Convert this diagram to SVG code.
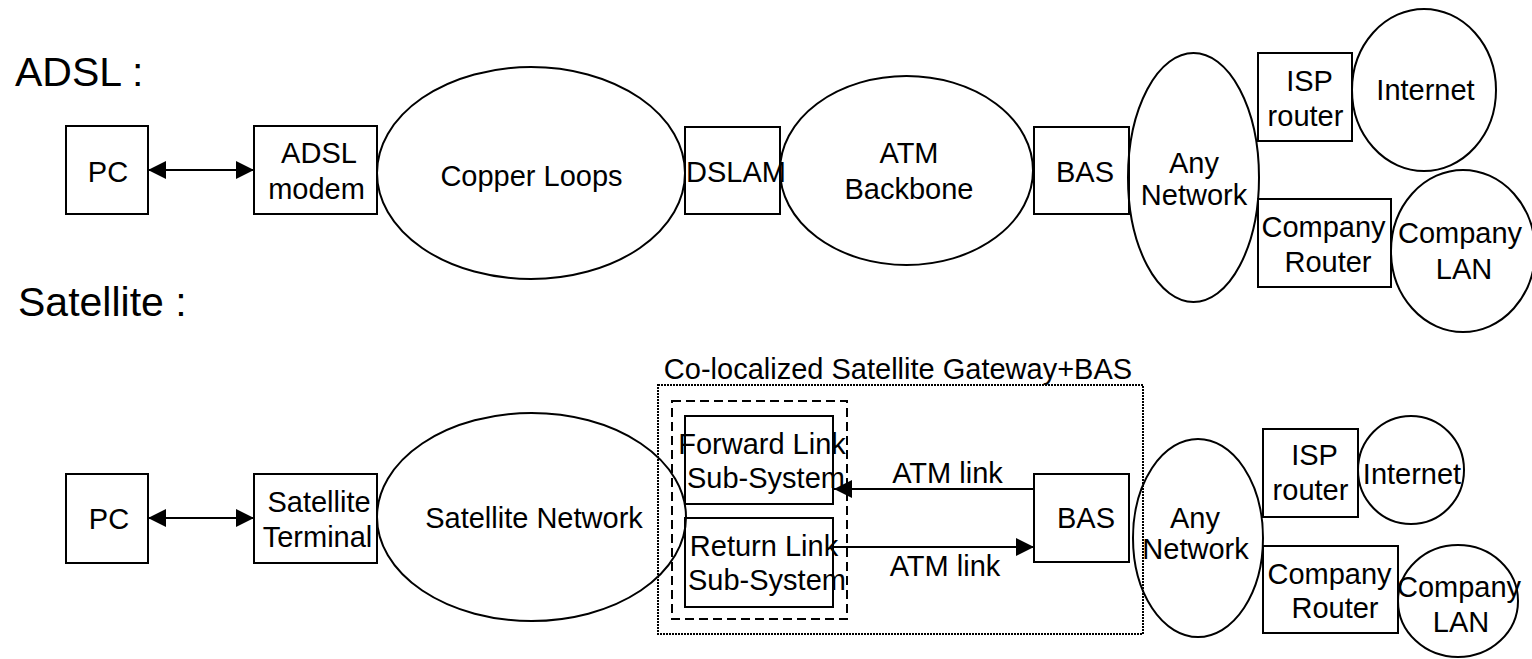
<svg xmlns="http://www.w3.org/2000/svg" width="1532" height="659" viewBox="0 0 1532 659">
<style>
text{font-family:"Liberation Sans",Arial,sans-serif;font-size:29px;fill:#000;text-anchor:middle}
.title{font-size:41px;text-anchor:start}
.box{fill:none;stroke:#000;stroke-width:2}
.ell{fill:none;stroke:#000;stroke-width:2}
.conn{stroke:#000;stroke-width:2;fill:none}
.dot{fill:none;stroke:#000;stroke-width:2;stroke-dasharray:2 1}
.dash{fill:none;stroke:#000;stroke-width:2;stroke-dasharray:9 5}
</style>
<defs>
<marker id="ah" viewBox="0 0 18 18" refX="18" refY="9" markerWidth="18" markerHeight="18" orient="auto-start-reverse" markerUnits="userSpaceOnUse">
<path d="M0,0 L18,9 L0,18 z" fill="#000"/>
</marker>
</defs>
<rect width="1532" height="659" fill="#fff"/>
<text class="title" x="15" y="86">ADSL :</text>
<text class="title" x="18" y="316">Satellite :</text>

<!-- ADSL row -->
<g id="pc1"><rect class="box" x="66" y="126" width="82" height="88"/><text x="108" y="182">PC</text></g>
<g id="adslmodem"><rect class="box" x="254" y="126" width="123" height="88"/><text x="319" y="163">ADSL</text><text x="316.5" y="199">modem</text></g>
<g id="copper"><ellipse class="ell" cx="531" cy="173" rx="154" ry="106"/><text x="531.5" y="186">Copper Loops</text></g>
<g id="dslam"><rect class="box" x="685" y="127" width="95" height="87"/><text x="736" y="182">DSLAM</text></g>
<g id="atm"><ellipse class="ell" cx="906.5" cy="170.5" rx="126.5" ry="94.5"/><text x="909" y="163">ATM</text><text x="909" y="199">Backbone</text></g>
<g id="bas1"><rect class="box" x="1034" y="127" width="95" height="87"/><text x="1085" y="182">BAS</text></g>
<g id="anynet1"><ellipse class="ell" cx="1193.5" cy="177.5" rx="65.5" ry="124.5"/><text x="1194" y="173">Any</text><text x="1194" y="205">Network</text></g>
<g id="isp1"><rect class="box" x="1258" y="53" width="94" height="88"/><text x="1309.5" y="91">ISP</text><text x="1305.5" y="126">router</text></g>
<g id="internet1"><ellipse class="ell" cx="1424" cy="90" rx="72" ry="81"/><text x="1425.5" y="100">Internet</text></g>
<g id="crouter1"><rect class="box" x="1258" y="199" width="133" height="88"/><text x="1323.5" y="237">Company</text><text x="1328" y="272">Router</text></g>
<g id="clan1"><ellipse class="ell" cx="1463" cy="251" rx="72" ry="81"/><text x="1460" y="243">Company</text><text x="1464" y="279">LAN</text></g>

<!-- Satellite row -->
<g id="gwbox"><rect class="dot" x="658" y="385" width="485" height="249"/><text x="898" y="379">Co-localized Satellite Gateway+BAS</text></g>
<g id="gwinner"><rect class="dash" x="672" y="401" width="175" height="218"/></g>
<g id="pc2"><rect class="box" x="66" y="474" width="82" height="89"/><text x="109" y="529">PC</text></g>
<g id="satterm"><rect class="box" x="254" y="474" width="123" height="89"/><text x="319" y="512">Satellite</text><text x="317.5" y="547">Terminal</text></g>
<g id="satnet"><ellipse class="ell" cx="531.5" cy="517" rx="154.5" ry="104"/><text x="534" y="528">Satellite Network</text></g>
<g id="fwd"><rect class="box" x="685" y="416" width="148" height="88"/><text x="762" y="454">Forward Link</text><text x="766" y="488">Sub-System</text></g>
<g id="ret"><rect class="box" x="685" y="518" width="148" height="89"/><text x="764" y="556">Return Link</text><text x="767" y="590">Sub-System</text></g>
<g id="bas2"><rect class="box" x="1034" y="474" width="95" height="88"/><text x="1086" y="528">BAS</text></g>
<g id="anynet2"><ellipse class="ell" cx="1198" cy="538" rx="65" ry="99"/><text x="1195" y="528">Any</text><text x="1195.5" y="559">Network</text></g>
<g id="isp2"><rect class="box" x="1263" y="429" width="95" height="88"/><text x="1314.5" y="465">ISP</text><text x="1310.5" y="500">router</text></g>
<g id="internet2"><ellipse class="ell" cx="1411" cy="470" rx="53" ry="54"/><text x="1412" y="484">Internet</text></g>
<g id="crouter2"><rect class="box" x="1263" y="546" width="135" height="87"/><text x="1329.5" y="584">Company</text><text x="1335" y="618">Router</text></g>
<g id="clan2"><ellipse class="ell" cx="1458" cy="601" rx="60" ry="56"/><text x="1459" y="597">Company</text><text x="1461" y="632">LAN</text></g>

<g id="connectors">
<line class="conn" x1="148" y1="170" x2="254" y2="170" marker-start="url(#ah)" marker-end="url(#ah)"/>
<line class="conn" x1="148" y1="518" x2="254" y2="518" marker-start="url(#ah)" marker-end="url(#ah)"/>
<line class="conn" x1="1034" y1="489" x2="834" y2="489" marker-end="url(#ah)"/>
<line class="conn" x1="833" y1="547" x2="1034" y2="547" marker-end="url(#ah)"/>
<text x="947.5" y="483">ATM link</text>
<text x="945" y="576">ATM link</text>
</g>
</svg>
